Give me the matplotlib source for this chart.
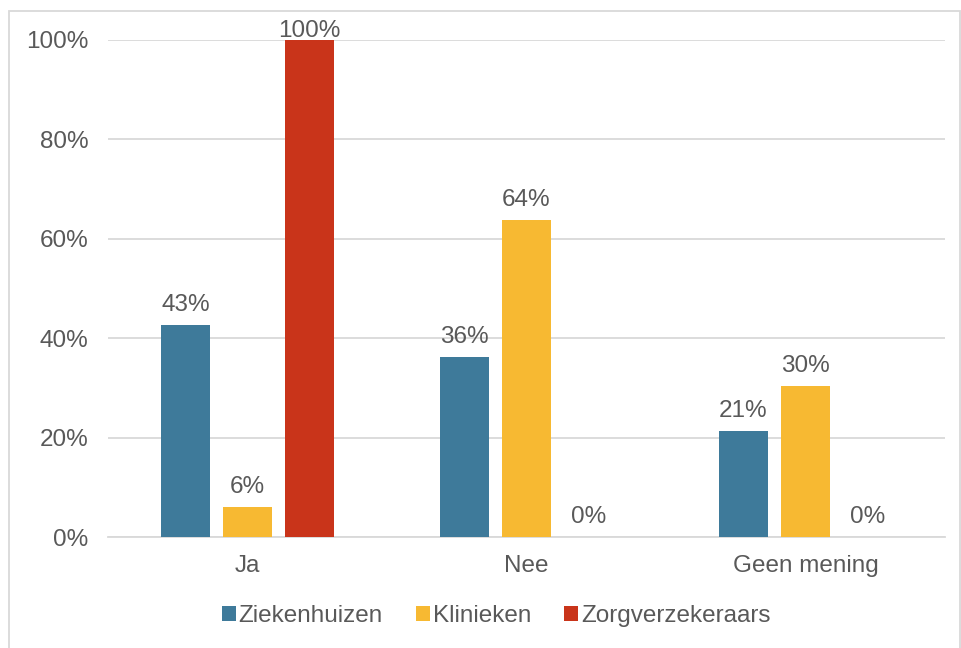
import matplotlib
matplotlib.use("Agg")
import matplotlib.pyplot as plt
import numpy as np
from matplotlib.patches import Rectangle

categories = ["Ja", "Nee", "Geen mening"]
series = ["Ziekenhuizen", "Klinieken", "Zorgverzekeraars"]
ziekenhuizen = [42.7, 36.2, 21.3]
klinieken = [6.0, 63.7, 30.3]
zorgverzekeraars = [100.0, 0.0, 0.0]
labels_z = ["43%", "36%", "21%"]
labels_k = ["6%", "64%", "30%"]
labels_zv = ["100%", "0%", "0%"]
colors = ["#3e7a9a", "#f7b932", "#c9341a"]
yticks = [0, 20, 40, 60, 80, 100]

plt.rcParams['font.family'] = ['Liberation Sans', 'DejaVu Sans']
fig = plt.figure(figsize=(9.62, 6.48), dpi=100)
ax = fig.add_axes([108/962, 1-537/648, (945-108)/962, (537-40)/648])

x = np.arange(len(categories))
w = 0.176
step = 0.222
data = [ziekenhuizen, klinieken, zorgverzekeraars]
labs = [labels_z, labels_k, labels_zv]
txtc = "#595959"
fs = 17.5
for i, (vals, lb) in enumerate(zip(data, labs)):
    pos = x + (i-1)*step
    ax.bar(pos, vals, width=w, color=colors[i], label=series[i], zorder=3)
    for p, v, t in zip(pos, vals, lb):
        ax.text(p, min(v + 1.8, 99.6), t, ha='center', va='bottom', fontsize=fs,
                color=txtc, zorder=4)

ax.set_xlim(-0.5, 2.5)
ax.set_ylim(0, 100)
ax.set_yticks(yticks)
ax.set_yticklabels([f"{t}%" for t in yticks])
ax.set_xticks(x)
ax.set_xticklabels(categories)
ax.tick_params(axis='both', length=0, labelsize=fs, labelcolor=txtc)
ax.tick_params(axis='y', pad=14)
ax.tick_params(axis='x', pad=13)
ax.grid(axis='y', color='#d9d9d9', linewidth=1.3, zorder=0)
ax.set_axisbelow(True)
for s in ['top', 'right', 'left']:
    ax.spines[s].set_visible(False)
ax.spines['bottom'].set_color('#d9d9d9')
ax.spines['bottom'].set_linewidth(1.3)

leg = fig.legend(loc='center', bbox_to_anchor=(496/962, 1-616/648), ncol=3, frameon=False,
                 fontsize=fs, handlelength=0.6, handleheight=0.6, handletextpad=0.1,
                 columnspacing=1.35)
for t in leg.get_texts():
    t.set_color(txtc)

fig.patches.append(Rectangle((8.5/962, -0.1), (960-8.5)/962, 1.1 - 11/648, transform=fig.transFigure,
                             fill=False, edgecolor='#d9d9d9', linewidth=1.3))

fig.savefig("out.png", dpi=100)
